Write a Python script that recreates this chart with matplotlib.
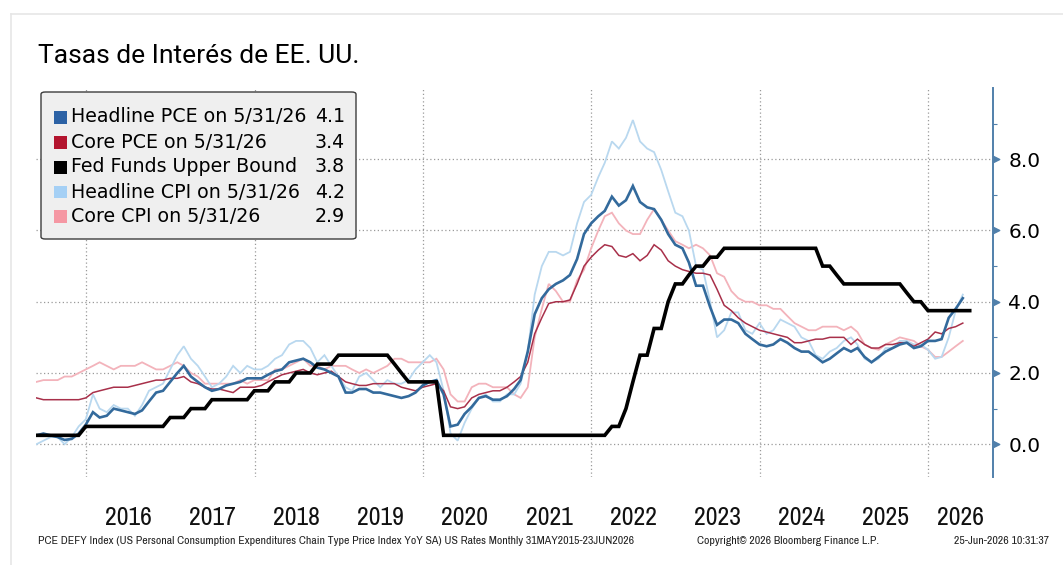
import numpy as np
import pandas as pd
import matplotlib
matplotlib.use('Agg')
import matplotlib.pyplot as plt
from matplotlib.patches import FancyBboxPatch, Rectangle
from matplotlib.lines import Line2D

# valores mensuales (fin de mes), may-2015 .. may-2026
headline_pce = [
    0.25, 0.3, 0.25, 0.2, 0.12, 0.15, 0.3, 0.55,                      # 2015
    0.9, 0.75, 0.8, 1.0, 0.95, 0.9, 0.85, 0.95, 1.2, 1.45, 1.5, 1.75,  # 2016
    2.0, 2.2, 1.9, 1.75, 1.6, 1.5, 1.55, 1.65, 1.7, 1.75, 1.85, 1.85,  # 2017
    1.85, 1.95, 2.05, 2.1, 2.3, 2.35, 2.4, 2.3, 2.15, 2.1, 2.0, 1.9,   # 2018
    1.45, 1.45, 1.55, 1.55, 1.45, 1.45, 1.4, 1.35, 1.3, 1.35, 1.45, 1.65,  # 2019
    1.75, 1.8, 1.4, 0.5, 0.55, 0.85, 1.05, 1.3, 1.35, 1.25, 1.25, 1.35,    # 2020
    1.55, 1.8, 2.6, 3.65, 4.1, 4.35, 4.5, 4.6, 4.75, 5.2, 5.9, 6.2,        # 2021
    6.4, 6.55, 6.95, 6.7, 6.85, 7.25, 6.8, 6.65, 6.6, 6.3, 5.9, 5.6,       # 2022
    5.5, 5.1, 4.45, 4.45, 3.85, 3.35, 3.5, 3.5, 3.4, 3.1, 2.95, 2.8,       # 2023
    2.75, 2.8, 2.95, 2.85, 2.7, 2.6, 2.6, 2.45, 2.3, 2.4, 2.55, 2.7,       # 2024
    2.6, 2.7, 2.45, 2.3, 2.45, 2.6, 2.7, 2.8, 2.85, 2.7, 2.75, 2.9,        # 2025
    2.9, 2.95, 3.55, 3.8, 4.1]                                             # 2026

core_pce = [
    1.3, 1.25, 1.25, 1.25, 1.25, 1.25, 1.25, 1.3,
    1.45, 1.5, 1.55, 1.6, 1.6, 1.6, 1.65, 1.7, 1.75, 1.8, 1.8, 1.85,
    1.85, 1.9, 1.75, 1.7, 1.6, 1.55, 1.55, 1.5, 1.45, 1.6, 1.6, 1.6,
    1.65, 1.75, 1.85, 1.95, 2.0, 2.05, 2.1, 2.0, 1.95, 2.0, 2.05, 1.9,
    1.75, 1.7, 1.65, 1.65, 1.7, 1.7, 1.7, 1.7, 1.6, 1.55, 1.5, 1.6,
    1.65, 1.7, 1.5, 1.05, 1.0, 1.05, 1.3, 1.4, 1.45, 1.5, 1.5, 1.6,
    1.75, 1.9, 2.3, 3.1, 3.55, 3.95, 4.0, 4.0, 4.05, 4.5, 5.0, 5.25,
    5.45, 5.6, 5.55, 5.3, 5.25, 5.35, 5.15, 5.3, 5.6, 5.45, 5.15, 5.0,
    4.9, 4.85, 4.8, 4.8, 4.75, 4.35, 3.9, 3.75, 3.55, 3.4, 3.3, 3.2,
    3.15, 3.1, 3.05, 3.0, 2.85, 2.85, 2.9, 2.95, 2.95, 3.0, 3.0, 3.0,
    2.8, 2.95, 2.8, 2.7, 2.7, 2.8, 2.8, 2.85, 2.85, 2.75, 2.85, 2.95,
    3.15, 3.1, 3.25, 3.3, 3.4]

headline_cpi = [
    0.0, 0.1, 0.2, 0.2, 0.0, 0.2, 0.5, 0.7,
    1.4, 1.0, 0.9, 1.1, 1.0, 1.0, 0.8, 1.1, 1.5, 1.6, 1.7, 2.1,
    2.5, 2.75, 2.4, 2.2, 1.9, 1.6, 1.7, 1.9, 2.2, 2.0, 2.2, 2.1,
    2.1, 2.2, 2.4, 2.5, 2.8, 2.9, 2.9, 2.7, 2.3, 2.5, 2.2, 1.9,
    1.6, 1.5, 1.9, 2.0, 1.8, 1.6, 1.8, 1.7, 1.7, 1.8, 2.1, 2.3,
    2.5, 2.3, 1.5, 0.3, 0.1, 0.6, 1.0, 1.3, 1.4, 1.2, 1.2, 1.4,
    1.4, 1.7, 2.6, 4.2, 5.0, 5.4, 5.4, 5.3, 5.4, 6.2, 6.8, 7.0,
    7.5, 7.9, 8.5, 8.3, 8.6, 9.1, 8.5, 8.3, 8.2, 7.7, 7.1, 6.5,
    6.4, 6.0, 5.0, 4.9, 4.0, 3.0, 3.2, 3.7, 3.7, 3.2, 3.1, 3.4,
    3.1, 3.2, 3.5, 3.4, 3.3, 3.0, 2.9, 2.5, 2.4, 2.6, 2.7, 2.9,
    3.0, 2.8, 2.4, 2.3, 2.4, 2.7, 2.7, 2.9, 2.9, 2.8, 2.8, 2.65,
    2.4, 2.45, 3.0, 3.75, 4.2]

core_cpi = [
    1.75, 1.8, 1.8, 1.8, 1.9, 1.9, 2.0, 2.1,
    2.2, 2.3, 2.2, 2.1, 2.2, 2.2, 2.2, 2.3, 2.2, 2.1, 2.1, 2.2,
    2.3, 2.2, 2.0, 1.9, 1.7, 1.7, 1.7, 1.7, 1.7, 1.8, 1.7, 1.8,
    1.8, 1.8, 2.1, 2.1, 2.2, 2.3, 2.4, 2.2, 2.2, 2.1, 2.2, 2.2,
    2.2, 2.1, 2.0, 2.1, 2.0, 2.1, 2.2, 2.4, 2.4, 2.3, 2.3, 2.3,
    2.3, 2.4, 2.1, 1.4, 1.2, 1.2, 1.6, 1.7, 1.7, 1.6, 1.6, 1.6,
    1.4, 1.3, 1.6, 3.0, 3.8, 4.5, 4.3, 4.0, 4.0, 4.6, 4.9, 5.5,
    6.0, 6.4, 6.5, 6.2, 6.0, 5.9, 5.9, 6.3, 6.6, 6.3, 6.0, 5.7,
    5.6, 5.5, 5.6, 5.5, 5.3, 4.8, 4.7, 4.3, 4.1, 4.0, 4.0, 3.9,
    3.9, 3.8, 3.8, 3.6, 3.4, 3.3, 3.2, 3.2, 3.3, 3.3, 3.3, 3.2,
    3.3, 3.15, 2.8, 2.7, 2.65, 2.8, 2.9, 3.0, 2.95, 2.9, 2.75, 2.65,
    2.45, 2.45, 2.6, 2.75, 2.9]

# may-2015 .. jun-2026
fed_funds = [
    0.25, 0.25, 0.25, 0.25, 0.25, 0.25, 0.25, 0.5,
    0.5, 0.5, 0.5, 0.5, 0.5, 0.5, 0.5, 0.5, 0.5, 0.5, 0.5, 0.75,
    0.75, 0.75, 1.0, 1.0, 1.0, 1.25, 1.25, 1.25, 1.25, 1.25, 1.25, 1.5,
    1.5, 1.5, 1.75, 1.75, 1.75, 2.0, 2.0, 2.0, 2.25, 2.25, 2.25, 2.5,
    2.5, 2.5, 2.5, 2.5, 2.5, 2.5, 2.5, 2.25, 2.0, 1.75, 1.75, 1.75,
    1.75, 1.75, 0.25, 0.25, 0.25, 0.25, 0.25, 0.25, 0.25, 0.25, 0.25, 0.25,
    0.25, 0.25, 0.25, 0.25, 0.25, 0.25, 0.25, 0.25, 0.25, 0.25, 0.25, 0.25,
    0.25, 0.25, 0.5, 0.5, 1.0, 1.75, 2.5, 2.5, 3.25, 3.25, 4.0, 4.5,
    4.5, 4.75, 5.0, 5.0, 5.25, 5.25, 5.5, 5.5, 5.5, 5.5, 5.5, 5.5,
    5.5, 5.5, 5.5, 5.5, 5.5, 5.5, 5.5, 5.5, 5.0, 5.0, 4.75, 4.5,
    4.5, 4.5, 4.5, 4.5, 4.5, 4.5, 4.5, 4.5, 4.25, 4.0, 4.0, 3.75,
    3.75, 3.75, 3.75, 3.75, 3.75, 3.75]

series_names = ['Headline PCE on 5/31/26', 'Core PCE on 5/31/26', 'Fed Funds Upper Bound',
                'Headline CPI on 5/31/26', 'Core CPI on 5/31/26']
legend_colors = ['#2c62a5', '#b3142e', '#000000', '#a5d0f5', '#f597a3']
line_colors = ['#336a9c', '#a8304a', '#000000', '#b9d8ef', '#f3b3bb']
line_widths = [1.9, 1.1, 2.6, 1.3, 1.3]
years = list(range(2016, 2027))

dates = pd.date_range('2015-05-31', periods=len(headline_pce), freq='ME')
fed_dates = pd.date_range('2015-05-31', periods=len(fed_funds), freq='ME')
x_left, x_right = pd.Timestamp('2015-05-29'), pd.Timestamp('2026-10-09')

narrow = ['Archivo Narrow', 'Roboto Condensed', 'DejaVu Sans']

W, H = 1063, 565
fig = plt.figure(figsize=(W / 100, H / 100), dpi=100)


def fx(px):
    return px / W


def fy(py):
    return 1 - py / H


# borde de la tarjeta
fig.add_artist(Line2D([fx(11), 1.01], [fy(14), fy(14)], transform=fig.transFigure, color='#e6e6e6', lw=1.2))
fig.add_artist(Line2D([fx(11), fx(11)], [fy(14), -0.01], transform=fig.transFigure, color='#e6e6e6', lw=1.2))

fig.text(fx(38), fy(56), 'Tasas de Interés de EE. UU.', family='Roboto', fontsize=19, va='center', ha='left')

ax = fig.add_axes([fx(36), fy(477), fx(993) - fx(36), fy(88) - fy(477)])

all_series = [headline_pce, core_pce, fed_funds, headline_cpi, core_cpi]
all_dates = [dates, dates, fed_dates, dates, dates]
zorders = [5, 4, 6, 3, 2]
for vals, d, c, lw, z in zip(all_series, all_dates, line_colors, line_widths, zorders):
    ax.plot(d, vals, color=c, lw=lw, zorder=z, solid_joinstyle='miter')

ax.set_xlim(x_left, x_right)
ax.set_ylim(-0.92, 10)

# rejilla cada dos años
ax.set_xticks([pd.Timestamp(f'{y}-01-01') for y in years[::2]])
ax.set_xticklabels([])
label_pos = [pd.Timestamp(f'{y}-07-01') for y in years[:-1]]
label_pos.append(pd.Timestamp('2026-01-01') + (x_right - pd.Timestamp('2026-01-01')) / 2)
ax.set_xticks(label_pos, minor=True)
ax.set_xticklabels([str(y) for y in years], minor=True)
ax.tick_params(axis='x', which='both', length=0)
ax.tick_params(axis='x', which='minor', pad=21, labelsize=18.5, labelcolor='#111111')
for lbl in ax.get_xticklabels(minor=True):
    lbl.set_family(narrow)
    lbl.set_fontweight('normal')

axis_color = '#5180ab'
ax.yaxis.tick_right()
yticks = [0, 2, 4, 6, 8]
ax.set_yticks(yticks)
ax.set_yticklabels([f'{v:.1f}' for v in yticks])
ax.set_yticks([1, 3, 5, 7, 9], minor=True)
ax.tick_params(axis='y', which='major', length=0, pad=11, labelsize=14.5)
ax.tick_params(axis='y', which='minor', length=3, width=0.8, color=axis_color, direction='out')
tri = [(0, -0.5), (1, 0), (0, 0.5)]
ax.plot(np.ones(len(yticks)), yticks, transform=ax.get_yaxis_transform(), marker=tri,
        ms=9, ls='none', color=axis_color, clip_on=False, zorder=7)

ax.grid(True, which='major', ls=(0, (1, 2)), color='#9a9a9a', lw=0.9)
for s in ['left', 'top', 'bottom']:
    ax.spines[s].set_visible(False)
ax.spines['right'].set_color(axis_color)
ax.spines['right'].set_linewidth(1.4)

# leyenda tipo Bloomberg
fig.add_artist(FancyBboxPatch((fx(41), fy(239)), fx(356) - fx(41), fy(92) - fy(239),
                              boxstyle='round,pad=0,rounding_size=0.004', transform=fig.transFigure,
                              fc='#efefef', ec='#3c3c3c', lw=1.0, zorder=10))
row_y = [117, 142, 167, 192, 216]
for name, vals, col, ry in zip(series_names, all_series, legend_colors, row_y):
    fig.add_artist(Rectangle((fx(54), fy(ry + 6.5)), fx(67) - fx(54), fy(ry - 6.5) - fy(ry + 6.5),
                             transform=fig.transFigure, fc=col, ec='none', zorder=11))
    fig.text(fx(71), fy(ry), name, fontsize=13.7, family='DejaVu Sans', va='center', ha='left', zorder=12)
    fig.text(fx(345), fy(ry), f'{vals[-1]:.1f}', fontsize=13.7, family='DejaVu Sans',
             va='center', ha='right', zorder=12)

# pie
foot = dict(family=narrow, fontsize=8.5, va='center', color='#222222')
fig.text(fx(38), fy(541), 'PCE DEFY Index (US Personal Consumption Expenditures Chain Type Price Index YoY SA) '
         'US Rates Monthly 31MAY2015-23JUN2026', ha='left', **foot)
fig.text(fx(697), fy(541), 'Copyright© 2026 Bloomberg Finance L.P.', ha='left', **foot)
fig.text(fx(1049), fy(541), '25-Jun-2026 10:31:37', ha='right', **foot)

fig.savefig('out.png', dpi=100)
